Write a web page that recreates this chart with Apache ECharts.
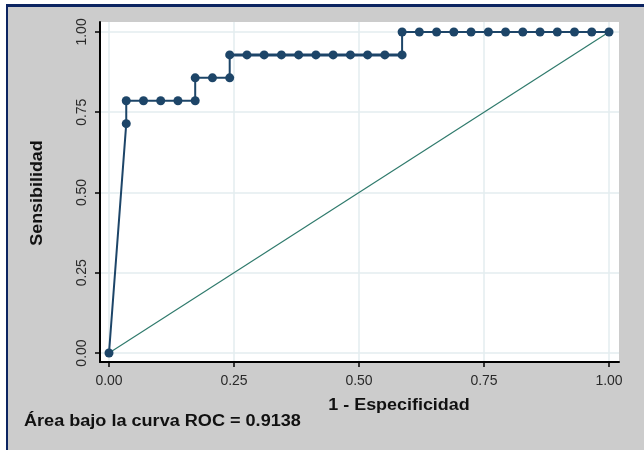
<!DOCTYPE html>
<html>
<head>
<meta charset="utf-8">
<script src="https://cdn.jsdelivr.net/npm/echarts@6/dist/echarts.min.js"></script>
<style>
  html, body { margin: 0; padding: 0; background: #fff; }
  #roc { width: 644px; height: 450px; }
</style>
</head>
<body>
<div id="roc"></div>
<script>
// puntos de la curva ROC (1 - especificidad, sensibilidad)
const fpr = [0, 0.0345, 0.0345, 0.0690, 0.1034, 0.1379, 0.1724, 0.1724, 0.2069, 0.2414,
  0.2414, 0.2759, 0.3103, 0.3448, 0.3793, 0.4138, 0.4483, 0.4828, 0.5172, 0.5517,
  0.5862, 0.5862, 0.6207, 0.6552, 0.6897, 0.7241, 0.7586, 0.7931, 0.8276, 0.8621,
  0.8966, 0.9310, 0.9655, 1];
const tpr = [0, 0.7143, 0.7857, 0.7857, 0.7857, 0.7857, 0.7857, 0.8571, 0.8571, 0.8571,
  0.9286, 0.9286, 0.9286, 0.9286, 0.9286, 0.9286, 0.9286, 0.9286, 0.9286, 0.9286,
  0.9286, 1, 1, 1, 1, 1, 1, 1, 1, 1,
  1, 1, 1, 1];
// tramo que aparece resaltado (gris) en la figura
const tramoIni = 10, tramoFin = 20;
// linea de referencia
const refX = [0, 1];
const refY = [0, 1];
const ticks = [0, 0.25, 0.5, 0.75, 1];
const auc = 0.9138;

const curva = fpr.map((x, i) => [x, tpr[i]]);
const tramo = curva.slice(tramoIni, tramoFin + 1);
const diag = refX.map((x, i) => [x, refY[i]]);

const chart = echarts.init(document.getElementById('roc'));
const font = '"Liberation Sans", Arial, sans-serif';
const titulo = 'bold 16px ' + font;

const eje = {
  type: 'value',
  axisLine: { show: true, onZero: false, lineStyle: { color: '#000', width: 2 } },
  axisTick: { show: true, length: 5, customValues: ticks, lineStyle: { color: '#000', width: 1.5 } },
  axisLabel: {
    customValues: ticks,
    color: '#2a2a2a', fontSize: 14, fontFamily: font,
    formatter: v => v.toFixed(2)
  },
  splitLine: { show: true, lineStyle: { color: '#e3edef', width: 1.5 } }
};

chart.setOption({
  backgroundColor: '#ffffff',
  animation: false,
  graphic: [
    { type: 'rect', z: -10, shape: { x: 6, y: 4, width: 700, height: 500 }, style: { fill: '#0c2461' } },
    { type: 'rect', z: -9, shape: { x: 8, y: 7, width: 700, height: 500 }, style: { fill: '#cccccc' } },
    { type: 'rect', z: -8, shape: { x: 100, y: 22, width: 519, height: 340 }, style: { fill: '#ffffff' } },
    {
      type: 'text', x: 38, y: 193, rotation: Math.PI / 2, scaleX: 1.12,
      style: { text: 'Sensibilidad', font: titulo, fill: '#111', align: 'center', verticalAlign: 'middle' }
    },
    {
      type: 'text', x: 399, y: 406, scaleX: 1.12,
      style: { text: '1 - Especificidad', font: titulo, fill: '#111', align: 'center', verticalAlign: 'middle' }
    },
    {
      type: 'text', x: 24, y: 422, scaleX: 1.13,
      style: { text: 'Área bajo la curva ROC = ' + auc.toFixed(4), font: titulo, fill: '#111', align: 'left', verticalAlign: 'middle' }
    }
  ],
  grid: { left: 100, right: 25, top: 22, bottom: 88, containLabel: false },
  xAxis: Object.assign({}, eje, {
    min: -0.018, max: 1.02,
    axisLabel: Object.assign({}, eje.axisLabel, { margin: 12 })
  }),
  yAxis: Object.assign({}, eje, {
    min: -0.028, max: 1.031,
    axisLabel: Object.assign({}, eje.axisLabel, { rotate: 90, margin: 11 })
  }),
  series: [
    {
      type: 'line', data: diag, symbol: 'none', silent: true, z: 2,
      lineStyle: { color: '#2f7a6c', width: 1.2 }
    },
    {
      type: 'line', data: tramo, symbol: 'none', silent: true, z: 3,
      lineStyle: { color: '#8ea1b6', width: 4 }
    },
    {
      type: 'line', data: curva, symbol: 'circle', symbolSize: 9, z: 4,
      itemStyle: { color: '#1d4568' },
      lineStyle: { color: '#1d4568', width: 2 }
    }
  ]
});
</script>
</body>
</html>
